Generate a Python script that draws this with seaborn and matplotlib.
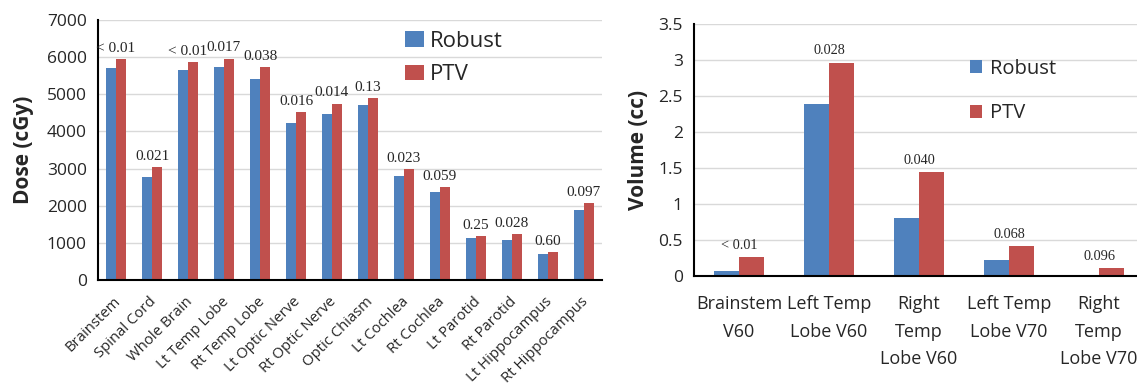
import numpy as np
import pandas as pd
import matplotlib
matplotlib.use("Agg")
import matplotlib.pyplot as plt
import seaborn as sns
from matplotlib.transforms import ScaledTranslation

# ---------------- data ----------------
dose_structures = ["Brainstem", "Spinal Cord", "Whole Brain", "Lt Temp Lobe", "Rt Temp Lobe",
                   "Lt Optic Nerve", "Rt Optic Nerve", "Optic Chiasm", "Lt Cochlea", "Rt Cochlea",
                   "Lt Parotid", "Rt Parotid", "Lt Hippocampus", "Rt Hippocampus"]
dose_robust = [5700, 2770, 5650, 5745, 5420, 4240, 4480, 4700, 2810, 2360, 1140, 1080, 700, 1890]
dose_ptv = [5940, 3050, 5870, 5960, 5735, 4515, 4750, 4890, 2990, 2500, 1185, 1230, 745, 2060]
dose_pvals = ["< 0.01", "0.021", "< 0.01", "0.017", "0.038", "0.016", "0.014", "0.13",
              "0.023", "0.059", "0.25", "0.028", "0.60", "0.097"]
dose_yticks = [0, 1000, 2000, 3000, 4000, 5000, 6000, 7000]

vol_metrics = ["Brainstem\nV60", "Left Temp\nLobe V60", "Right\nTemp\nLobe V60",
               "Left Temp\nLobe V70", "Right\nTemp\nLobe V70"]
vol_robust = [0.074, 2.39, 0.80, 0.22, 0.014]
vol_ptv = [0.26, 2.96, 1.44, 0.41, 0.107]
vol_pvals = ["< 0.01", "0.028", "0.040", "0.068", "0.096"]
vol_yticks = [0, 0.5, 1, 1.5, 2, 2.5, 3, 3.5]
vol_yticklabels = ["0", "0.5", "1", "1.5", "2", "2.5", "3", "3.5"]

plans = ["Robust", "PTV"]
colors = ["#4F81BD", "#C0504D"]

# ---------------- style ----------------
sns.set_style("white")
plt.rcParams["font.family"] = ["Open Sans", "DejaVu Sans"]

W, H = 1137, 389
fig = plt.figure(figsize=(W / 100, H / 100), dpi=100)


def px_rect(x0, x1, ytop, ybot):
    return [x0 / W, 1 - ybot / H, (x1 - x0) / W, (ybot - ytop) / H]


def long_df(cats, a, b):
    return pd.DataFrame({
        "cat": list(cats) * 2,
        "plan": [plans[0]] * len(cats) + [plans[1]] * len(cats),
        "value": list(a) + list(b),
    })


def style_axes(ax, n):
    ax.set_xlim(-0.5, n - 0.5)
    ax.set_xticks(np.arange(-0.5, n, 1.0), minor=True)
    ax.tick_params(axis="x", which="major", length=0)
    ax.tick_params(axis="x", which="minor", length=5, width=1.3, direction="out", color="black")
    ax.tick_params(axis="y", which="major", length=6, width=1.3, direction="out", color="black",
                   labelsize=12.5, pad=2)
    for s in ["top", "right"]:
        ax.spines[s].set_visible(False)
    for s in ["left", "bottom"]:
        ax.spines[s].set_color("black")
        ax.spines[s].set_linewidth(1.5)
    ax.yaxis.grid(True, color="#d9d9d9", lw=1)
    ax.set_axisbelow(True)
    ax.set_xlabel("")


# ---------------- left chart ----------------
ax1 = fig.add_axes(px_rect(98, 602, 20, 280))
sns.barplot(data=long_df(dose_structures, dose_robust, dose_ptv), x="cat", y="value",
            hue="plan", hue_order=plans, palette=colors, width=0.56, linewidth=0,
            saturation=1, ax=ax1)
style_axes(ax1, len(dose_structures))
ax1.set_ylim(0, 7000)
ax1.set_yticks(dose_yticks)
ax1.set_yticklabels([str(v) for v in dose_yticks])
ax1.set_ylabel("Dose (cGy)", fontsize=15, fontweight="bold", labelpad=9)
ax1.set_xticks(range(len(dose_structures)))
ax1.tick_params(axis="x", which="major", pad=0)
ax1.set_xticklabels(dose_structures, rotation=45, ha="right", va="top",
                    rotation_mode="anchor", fontsize=10.7)
off = ScaledTranslation(-3 / 100, -14 / 100, fig.dpi_scale_trans)
for lab in ax1.get_xticklabels():
    lab.set_transform(lab.get_transform() + off)
for i, p in enumerate(dose_pvals):
    ax1.annotate(p, xy=(i, max(dose_robust[i], dose_ptv[i])), xytext=(0, 3),
                 textcoords="offset points", ha="center", va="bottom",
                 fontfamily="Liberation Serif", fontsize=11)
h, l = ax1.get_legend_handles_labels()
ax1.get_legend().remove()
ax1.legend(h, l, loc="upper left", bbox_to_anchor=(405 / W, 1 - 31 / H),
           bbox_transform=fig.transFigure, frameon=False, fontsize=16,
           borderpad=0, borderaxespad=0, handlelength=0.85, handleheight=0.7,
           handletextpad=0.25, labelspacing=0.55)

# ---------------- right chart ----------------
ax2 = fig.add_axes(px_rect(694, 1144, 24, 276))
sns.barplot(data=long_df(vol_metrics, vol_robust, vol_ptv), x="cat", y="value",
            hue="plan", hue_order=plans, palette=colors, width=0.56, linewidth=0,
            saturation=1, ax=ax2)
style_axes(ax2, len(vol_metrics))
ax2.set_ylim(0, 3.5)
ax2.set_yticks(vol_yticks)
ax2.set_yticklabels(vol_yticklabels)
ax2.set_ylabel("Volume (cc)", fontsize=15, fontweight="bold", labelpad=7)
ax2.set_xticks(range(len(vol_metrics)))
ax2.set_xticklabels(vol_metrics, fontsize=13, linespacing=1.65, va="top")
ax2.tick_params(axis="x", which="major", pad=14)
for i, p in enumerate(vol_pvals):
    ax2.annotate(p, xy=(i, max(vol_robust[i], vol_ptv[i])), xytext=(0, 4),
                 textcoords="offset points", ha="center", va="bottom",
                 fontfamily="Liberation Serif", fontsize=10.3)
h, l = ax2.get_legend_handles_labels()
ax2.get_legend().remove()
ax2.legend(h, l, loc="upper left", bbox_to_anchor=(970 / W, 1 - 59 / H),
           bbox_transform=fig.transFigure, frameon=False, fontsize=14.5,
           borderpad=0, borderaxespad=0, handlelength=0.62, handleheight=0.62,
           handletextpad=0.35, labelspacing=1.2)

fig.savefig("out.png", dpi=100)
